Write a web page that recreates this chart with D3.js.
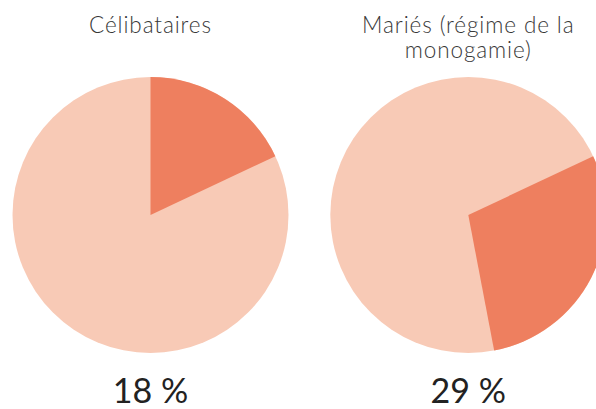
<!DOCTYPE html>
<html>
<head>
<meta charset="utf-8">
<script src="https://cdn.jsdelivr.net/npm/d3@7"></script>
<style>
  html, body { margin: 0; padding: 0; background: #fff; }
  svg { display: block; }
</style>
</head>
<body>
<svg id="chart" width="596" height="409"></svg>
<script>
// data
var categories = ["Célibataires", "Mariés (régime de la monogamie)"];
var titleLines = [["Célibataires"], ["Mariés (régime de la", "monogamie)"]];
var shares = [18, 29];       // highlighted slice, %
var startAt = [0, 18];       // where the highlighted slice begins, %
var labels = ["18 %", "29 %"];

var W = 596, H = 409;
var R = 138, cy = 215;
var light = "#f8cab6", dark = "#ee7f5f";

var svg = d3.select("#chart");

var cx = d3.scalePoint().domain(categories).range([150.5, 468.3]);
var angle = d3.scaleLinear().domain([0, 100]).range([0, 2 * Math.PI]);
var arc = d3.arc().innerRadius(0).outerRadius(R);

var g = svg.selectAll("g.pie")
    .data(categories)
    .enter()
    .append("g")
    .attr("class", "pie")
    .attr("transform", function (d) { return "translate(" + cx(d) + "," + cy + ")"; });

// full light disc, then the highlighted slice on top
g.append("path")
    .attr("d", arc({ startAngle: 0, endAngle: 2 * Math.PI }))
    .attr("fill", light);

g.append("path")
    .attr("d", function (d, i) {
        return arc({ startAngle: angle(startAt[i]), endAngle: angle(startAt[i] + shares[i]) });
    })
    .attr("fill", dark);

// titles
svg.selectAll("text.title")
    .data(categories)
    .enter()
    .append("text")
    .attr("class", "title")
    .attr("x", function (d) { return cx(d); })
    .attr("y", 33)
    .attr("text-anchor", "middle")
    .style("font-family", "Lato, 'Open Sans', sans-serif")
    .style("font-weight", 300)
    .style("font-size", "22.5px")
    .style("letter-spacing", "0.9px")
    .style("fill", "#383838")
    .each(function (d, i) {
        var t = d3.select(this);
        titleLines[i].forEach(function (line, j) {
            t.append("tspan")
                .attr("x", cx(d))
                .attr("dy", j === 0 ? 0 : 25)
                .text(line);
        });
    });

// percentages
svg.selectAll("text.pct")
    .data(categories)
    .enter()
    .append("text")
    .attr("class", "pct")
    .attr("x", function (d) { return cx(d); })
    .attr("y", 403)
    .attr("text-anchor", "middle")
    .style("font-family", "Lato, 'Open Sans', sans-serif")
    .style("font-weight", 400)
    .style("font-size", "34px")
    .style("fill", "#222")
    .text(function (d, i) { return labels[i]; });
</script>
</body>
</html>
